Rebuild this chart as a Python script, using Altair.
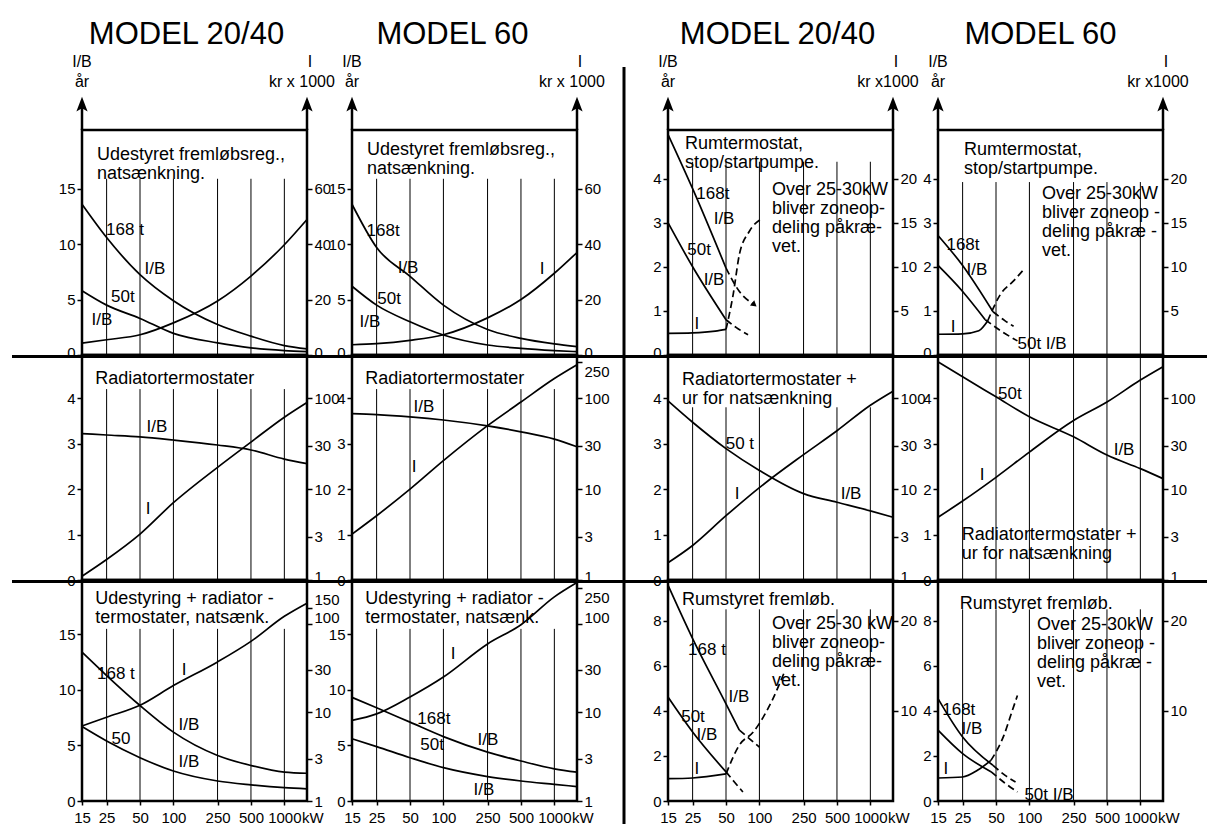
import altair as alt
import pandas as pd

FONT = "Liberation Sans"

# ---------------- data ----------------
KW = [15, 25, 50, 100, 250, 500, 1000, 1600]
GRID_KW = [25, 50, 100, 250, 500, 1000]
X_TICKS = [15, 25, 50, 100, 250, 500, 1000]
TITLES = ["MODEL 20/40", "MODEL 60", "MODEL 20/40", "MODEL 60"]
RIGHT_UNITS = ["kr x 1000", "kr x 1000", "kr x1000", "kr x1000"]

# Row 1
R1C1_IB168 = [13.6, 10.6, 7.25, 4.9, 2.75, 1.7, 0.85, 0.55]
R1C1_IB50 = [5.8, 4.5, 3.3, 1.95, 1.1, 0.65, 0.4, 0.3]
R1C1_I = [4.3, 5.5, 7.3, 11.6, 19.5, 28.5, 39.8, 48.9]

R1C2_IB168 = [13.6, 9.7, 7.1, 4.5, 2.3, 1.5, 1.0, 0.75]
R1C2_IB50 = [6.2, 4.5, 3.0, 1.8, 0.9, 0.6, 0.4, 0.3]
R1C2_I = [3.7, 4.1, 5.3, 7.3, 13.4, 20.0, 29.5, 37.0]

R1C3_IB168_X = [15, 25, 50]
R1C3_IB168 = [5.0, 3.77, 1.97]
R1C3_IB168_DX = [50, 66, 90]
R1C3_IB168_D = [1.97, 1.44, 1.14]
R1C3_IB50_X = [15, 25, 50]
R1C3_IB50 = [3.0, 2.0, 0.8]
R1C3_IB50_DX = [50, 62, 79]
R1C3_IB50_D = [0.8, 0.62, 0.46]
R1C3_I_X = [15, 25, 40, 50]
R1C3_I = [2.45, 2.5, 2.7, 2.9]
R1C3_I_DX = [50, 58, 66, 81, 107]
R1C3_I_D = [2.9, 6.85, 11.4, 14.0, 15.5]

R1C4_IB168_X = [15, 25, 47]
R1C4_IB168 = [2.71, 2.03, 0.98]
R1C4_IB168_DX = [47, 60, 72]
R1C4_IB168_D = [0.98, 0.78, 0.65]
R1C4_IB50_X = [15, 25, 40]
R1C4_IB50 = [2.03, 1.44, 0.8]
R1C4_IB50_DX = [40, 55, 78]
R1C4_IB50_D = [0.8, 0.55, 0.32]
R1C4_I_X = [15, 25, 35, 42]
R1C4_I = [2.35, 2.4, 2.75, 3.85]
R1C4_I_DX = [42, 55, 72, 89]
R1C4_I_D = [3.85, 6.9, 8.4, 9.7]

# Row 2
R2C1_IB = [3.22, 3.19, 3.15, 3.08, 2.97, 2.86, 2.66, 2.56]
R2C1_I = [1.1, 1.68, 3.2, 7.1, 17.4, 33, 62, 90]
R2C2_IB = [3.66, 3.64, 3.59, 3.52, 3.39, 3.26, 3.1, 2.93]
R2C2_I = [3.2, 5.1, 10, 20.6, 50, 91, 165, 234]
R2C3_IB50 = [3.94, 3.47, 2.89, 2.41, 1.9, 1.71, 1.52, 1.38]
R2C3_I = [1.55, 2.4, 5.1, 10.4, 24, 44, 84, 120]
R2C4_IB50 = [4.8, 4.47, 4.03, 3.59, 3.15, 2.75, 2.45, 2.23]
R2C4_I = [4.9, 7.4, 13.5, 25.6, 57, 91, 159, 223]

# Row 3
R3C1_IB168 = [13.4, 11.3, 8.6, 6.2, 4.1, 3.2, 2.6, 2.5]
R3C1_IB50 = [6.7, 5.4, 3.9, 2.7, 1.8, 1.45, 1.2, 1.1]
R3C1_I = [7.0, 8.8, 12, 20, 37, 63, 121, 170]
R3C2_IB168 = [9.33, 8.4, 7.1, 5.8, 4.4, 3.6, 2.9, 2.6]
R3C2_IB50 = [5.6, 4.9, 3.9, 3.0, 2.2, 1.8, 1.5, 1.3]
R3C2_I = [8.1, 9.6, 14.9, 25, 59, 97, 200, 290]

R3C3_IB168_X = [15, 25, 50, 66]
R3C3_IB168 = [9.57, 7.2, 4.31, 3.14]
R3C3_IB168_DX = [66, 100]
R3C3_IB168_D = [3.14, 2.39]
R3C3_IB50_X = [15, 25, 50]
R3C3_IB50 = [4.61, 3.06, 1.29]
R3C3_IB50_DX = [50, 60, 71]
R3C3_IB50_D = [1.29, 0.82, 0.4]
R3C3_I_X = [15, 25, 50]
R3C3_I = [2.47, 2.55, 3.0]
R3C3_I_DX = [50, 66, 88, 132, 168]
R3C3_I_D = [3.0, 6.2, 7.65, 11.3, 14.3]

R3C4_IB168_X = [15, 25, 47]
R3C4_IB168 = [4.54, 2.84, 1.58]
R3C4_IB168_DX = [47, 60, 75]
R3C4_IB168_D = [1.58, 1.15, 0.84]
R3C4_IB50_X = [15, 25, 45]
R3C4_IB50 = [3.14, 2.1, 1.3]
R3C4_IB50_DX = [45, 60, 78]
R3C4_IB50_D = [1.3, 0.8, 0.4]
R3C4_I_X = [15, 25, 34, 45]
R3C4_I = [2.55, 2.66, 3.4, 4.5]
R3C4_I_DX = [45, 59, 70, 78]
R3C4_I_D = [4.5, 7.3, 10.0, 11.7]

# ---------------- layout ----------------
W = 225
ROW_H = [225, 225, 221]
ONE = pd.DataFrame({"d": [0]})
XSCALE = alt.Scale(type="log", domain=[15, 1600], nice=False)
TITLE_DX = [-8, -12, -3, -10]

TEXT_IB = "Udestyret fremløbsreg.,\nnatsænkning."
TEXT_RT = "Rumtermostat,\nstop/startpumpe."
TEXT_OVER = "Over 25-30kW\nbliver zoneop-\ndeling påkræ-\nvet."
TEXT_OVER4 = "Over 25-30kW\nbliver zoneop -\ndeling påkræ -\nvet."
TEXT_US = "Udestyring + radiator -\ntermostater, natsænk."

# label nudges for crowded tick labels (value -> pixel offset)
OFF_R1 = {0: -3}
OFF_R2L = {}
OFF_R2R = {1: -4, 250: 9}
OFF_R3R = {100: -6, 150: -8, 250: 9}

PANELS = [
    # row 1
    dict(ldom=[0, 20.3], lt=[0, 5, 10, 15], rdom=[0, 81.2], rt=[0, 20, 40, 60], rlog=False, gtop=15.9,
         loff=OFF_R1, roff=OFF_R1,
         ib=[(KW, R1C1_IB168, False), (KW, R1C1_IB50, False)], ii=[(KW, R1C1_I, False)],
         labels=[(36.6, 11.3, "168 t"), (68, 7.76, "I/B"), (35, 5.23, "50t"), (22.7, 3.16, "I/B")],
         texts=[(20.5, 17.6, TEXT_IB)], heads=[]),
    dict(ldom=[0, 20.3], lt=[0, 5, 10, 15], rdom=[0, 81.2], rt=[0, 20, 40, 60], rlog=False, gtop=15.9,
         loff=OFF_R1, roff=OFF_R1,
         ib=[(KW, R1C2_IB168, False), (KW, R1C2_IB50, False)], ii=[(KW, R1C2_I, False)],
         labels=[(28.6, 11.2, "168t"), (48, 7.85, "I/B"), (32.4, 5.05, "50t"), (21.8, 2.98, "I/B"), (775, 7.76, "I")],
         texts=[(20.5, 18.05, TEXT_IB)], heads=[]),
    dict(ldom=[0, 5.1], lt=[0, 1, 2, 3, 4], rdom=[0, 25.5], rt=[5, 10, 15, 20], rlog=False, gtop=4.38,
         loff=OFF_R1, roff={},
         ib=[(R1C3_IB168_X, R1C3_IB168, False), (R1C3_IB168_DX, R1C3_IB168_D, True),
             (R1C3_IB50_X, R1C3_IB50, False), (R1C3_IB50_DX, R1C3_IB50_D, True)],
         ii=[(R1C3_I_X, R1C3_I, False), (R1C3_I_DX, R1C3_I_D, True)],
         labels=[(38.1, 3.65, "168t"), (48, 3.08, "I/B"), (28.6, 2.38, "50t"), (39, 1.7, "I/B"), (27.3, 0.7, "I")],
         texts=[(21.3, 4.67, TEXT_RT), (130, 3.63, TEXT_OVER)],
         heads=[(R1C3_IB168_DX[-1], R1C3_IB168_D[-1], 40)]),
    dict(ldom=[0, 5.1], lt=[0, 1, 2, 3, 4], rdom=[0, 25.5], rt=[5, 10, 15, 20], rlog=False, gtop=3.92,
         loff=OFF_R1, roff={},
         ib=[(R1C4_IB168_X, R1C4_IB168, False), (R1C4_IB168_DX, R1C4_IB168_D, True),
             (R1C4_IB50_X, R1C4_IB50, False), (R1C4_IB50_DX, R1C4_IB50_D, True)],
         ii=[(R1C4_I_X, R1C4_I, False), (R1C4_I_DX, R1C4_I_D, True)],
         labels=[(25.2, 2.49, "168t"), (33.7, 1.93, "I/B"), (20.5, 0.63, "I"), (130, 0.25, "50t  I/B")],
         texts=[(25.7, 4.54, TEXT_RT), (130, 3.54, TEXT_OVER4)], heads=[]),
    # row 2
    dict(ldom=[0, 4.95], lt=[0, 1, 2, 3, 4], rdom=[1, 300], rt=[1, 3, 10, 30, 100], rlog=True, gtop=4.2,
         loff=OFF_R2L, roff=OFF_R2R,
         ib=[(KW, R2C1_IB, False)], ii=[(KW, R2C1_I, False)],
         labels=[(71, 3.37, "I/B"), (59, 1.56, "I")],
         texts=[(19.7, 4.31, "Radiatortermostater")], heads=[]),
    dict(ldom=[0, 4.95], lt=[0, 1, 2, 3, 4], rdom=[1, 300], rt=[1, 3, 10, 30, 100, 250], rlog=True, gtop=4.2,
         loff=OFF_R2L, roff=OFF_R2R,
         ib=[(KW, R2C2_IB, False)], ii=[(KW, R2C2_I, False)],
         labels=[(66.7, 3.81, "I/B"), (54.3, 2.49, "I")],
         texts=[(19.7, 4.31, "Radiatortermostater")], heads=[]),
    dict(ldom=[0, 4.95], lt=[0, 1, 2, 3, 4], rdom=[1, 300], rt=[1, 3, 10, 30, 100], rlog=True, gtop=3.8,
         loff=OFF_R2L, roff=OFF_R2R,
         ib=[(KW, R2C3_IB50, False)], ii=[(KW, R2C3_I, False)],
         labels=[(66.7, 2.99, "50 t"), (62.8, 1.89, "I"), (670, 1.89, "I/B")],
         texts=[(20.1, 4.29, "Radiatortermostater +\nur for natsænkning")], heads=[]),
    dict(ldom=[0, 4.95], lt=[0, 1, 2, 3, 4], rdom=[1, 300], rt=[1, 3, 10, 30, 100], rlog=True, gtop=4.95,
         loff=OFF_R2L, roff=OFF_R2R,
         ib=[(KW, R2C4_IB50, False)], ii=[(KW, R2C4_I, False)],
         labels=[(66.7, 4.09, "50t"), (713, 2.86, "I/B"), (37.5, 2.31, "I")],
         texts=[(24.6, 0.88, "Radiatortermostater +\nur for natsænkning")], heads=[]),
    # row 3
    dict(ldom=[0, 19.9], lt=[0, 5, 10, 15], rdom=[1, 310], rt=[1, 3, 10, 30, 100, 150], rlog=True, gtop=15.5,
         loff={}, roff=OFF_R3R,
         ib=[(KW, R3C1_IB168, False), (KW, R3C1_IB50, False)], ii=[(KW, R3C1_I, False)],
         labels=[(30.3, 11.4, "168 t"), (124.6, 11.8, "I"), (138, 6.85, "I/B"), (33.7, 5.59, "50"), (138, 3.51, "I/B")],
         texts=[(19.7, 17.75, TEXT_US)], heads=[]),
    dict(ldom=[0, 19.9], lt=[0, 5, 10, 15], rdom=[1, 310], rt=[1, 3, 10, 30, 100, 250], rlog=True, gtop=15.5,
         loff={}, roff=OFF_R3R,
         ib=[(KW, R3C2_IB168, False), (KW, R3C2_IB50, False)], ii=[(KW, R3C2_I, False)],
         labels=[(122, 13.2, "I"), (82, 7.39, "168t"), (252, 5.5, "I/B"), (79, 5.05, "50t"), (232, 0.99, "I/B")],
         texts=[(19.7, 17.75, TEXT_US)], heads=[]),
    dict(ldom=[0, 9.8], lt=[0, 2, 4, 6, 8], rdom=[0, 24.5], rt=[10, 20], rlog=False, gtop=8.5,
         loff={}, roff={},
         ib=[(R3C3_IB168_X, R3C3_IB168, False), (R3C3_IB168_DX, R3C3_IB168_D, True),
             (R3C3_IB50_X, R3C3_IB50, False), (R3C3_IB50_DX, R3C3_IB50_D, True)],
         ii=[(R3C3_I_X, R3C3_I, False), (R3C3_I_DX, R3C3_I_D, True)],
         labels=[(33.7, 6.7, "168 t"), (65.3, 4.61, "I/B"), (25.2, 3.72, "50t"), (33.7, 2.93, "I/B"), (27.3, 1.42, "I")],
         texts=[(20.1, 8.69, "Rumstyret fremløb."), (130, 7.63, "Over 25-30 kW\nbliver zoneop-\ndeling påkræ-\nvet.")],
         heads=[]),
    dict(ldom=[0, 9.8], lt=[0, 2, 4, 6, 8], rdom=[0, 24.5], rt=[10, 20], rlog=False, gtop=8.5,
         loff={}, roff={},
         ib=[(R3C4_IB168_X, R3C4_IB168, False), (R3C4_IB168_DX, R3C4_IB168_D, True),
             (R3C4_IB50_X, R3C4_IB50, False), (R3C4_IB50_DX, R3C4_IB50_D, True)],
         ii=[(R3C4_I_X, R3C4_I, False), (R3C4_I_DX, R3C4_I_D, True)],
         labels=[(23.1, 4.04, "168t"), (30.3, 3.19, "I/B"), (17.7, 1.42, "I"), (150, 0.27, "50t  I/B")],
         texts=[(23.6, 8.51, "Rumstyret fremløb."), (117, 7.58, TEXT_OVER4)], heads=[]),
]


def x_enc(bottom):
    if bottom:
        ax = alt.Axis(values=X_TICKS, title=None, grid=False, domain=False, ticks=True, tickSize=4,
                      tickColor="black", tickWidth=1.5, labelColor="black", labelFontSize=15,
                      labelPadding=5, labelFlush=False, labelOverlap=False, format="d", labelFont=FONT)
    else:
        ax = None
    return alt.X("kW:Q", scale=XSCALE, axis=ax)


def offset_prop(offsets):
    if not offsets:
        return 0
    conds = [{"test": "datum.value == %s" % k, "value": v} for k, v in offsets.items()]
    return {"condition": conds, "value": 0}


def y_enc(domain, ticks, orient, log=False, offsets=None):
    scale = alt.Scale(type="log" if log else "linear", domain=domain, nice=False, zero=False)
    ax = alt.Axis(values=ticks, orient=orient, title=None, grid=False, domain=False, tickSize=5,
                  tickColor="black", tickWidth=1.5, labelColor="black", labelFontSize=15,
                  labelPadding=2, labelOverlap=False, format="d", labelFont=FONT,
                  labelOffset=offset_prop(offsets))
    return alt.Y("v:Q", scale=scale, axis=ax)


def curve(xs, ys, xe, ye, dashed):
    df = pd.DataFrame({"kW": xs, "v": ys})
    kw = dict(color="black", strokeWidth=1.7, interpolate="monotone")
    if dashed:
        kw["strokeDash"] = [7, 4]
    return alt.Chart(df).mark_line(**kw).encode(x=xe, y=ye)


def deco_text(text, x, y, size, align="center"):
    return alt.Chart(ONE).mark_text(text=text, fontSize=size, align=align, baseline="alphabetic",
                                    color="black", font=FONT).encode(x=alt.value(x), y=alt.value(y))


def arrow(x):
    shaft = alt.Chart(ONE).mark_rule(color="black", strokeWidth=2.5).encode(
        x=alt.value(x), y=alt.value(-26), y2=alt.value(0))
    head = alt.Chart(ONE).mark_point(shape="M0,-1L0.6,0.6L0,0.25L-0.6,0.6Z", filled=True, color="black",
                                     size=350, opacity=1, strokeWidth=0).encode(x=alt.value(x), y=alt.value(-24))
    return [shaft, head]


def panel(p, row, col):
    h = ROW_H[row]
    xe = x_enc(row == 2)
    yl = y_enc(p["ldom"], p["lt"], "left", False, p["loff"])
    yr = y_enc(p["rdom"], p["rt"], "right", p["rlog"], p["roff"])
    left = []
    g = pd.DataFrame({"kW": GRID_KW, "v": [0] * len(GRID_KW), "v2": [p["gtop"]] * len(GRID_KW)})
    left.append(alt.Chart(g).mark_rule(color="black", strokeWidth=1).encode(x=xe, y=yl, y2="v2:Q"))
    for xs, ys, d in p["ib"]:
        left.append(curve(xs, ys, xe, yl, d))
    for hx, hy, ang in p["heads"]:
        hdf = pd.DataFrame({"kW": [hx], "v": [hy]})
        left.append(alt.Chart(hdf).mark_point(shape="triangle-right", filled=True, color="black", size=45,
                                              opacity=1, angle=ang).encode(x=xe, y=yl))
    lab = pd.DataFrame({"kW": [a[0] for a in p["labels"]], "v": [a[1] for a in p["labels"]],
                        "t": [a[2] for a in p["labels"]]})
    left.append(alt.Chart(lab).mark_text(fontSize=17, color="black", font=FONT, baseline="middle").encode(
        x=xe, y=yl, text="t:N"))
    for tx, ty, tt in p["texts"]:
        tdf = pd.DataFrame({"kW": [tx], "v": [ty], "t": [tt]})
        left.append(alt.Chart(tdf).mark_text(fontSize=18, color="black", font=FONT, align="left",
                                             baseline="alphabetic", lineBreak="\n", lineHeight=19).encode(
            x=xe, y=yl, text="t:N"))
    if row == 0:
        left.append(deco_text(TITLES[col], W / 2 + TITLE_DX[col], -86, 31))
        left.append(deco_text("I/B", 0, -63, 16))
        left.append(deco_text("år", 0, -43, 16))
        left.append(deco_text("I", W + 3, -63, 16))
        left.append(deco_text(RIGHT_UNITS[col], W - 5, -43, 16))
        left += arrow(0)
        left += arrow(W)
    if col == 0 and row > 0:
        left.append(alt.Chart(ONE).mark_rule(color="black", strokeWidth=3).encode(
            x=alt.value(-70), x2=alt.value(1125), y=alt.value(1.5)))
    if col == 0 and row == 0:
        left.append(alt.Chart(ONE).mark_rule(color="white", strokeWidth=1).encode(
            x=alt.value(-72), x2=alt.value(-71), y=alt.value(-120)))
    if row == 2:
        kdf = pd.DataFrame({"kW": [1600], "t": ["kW"]})
        left.append(alt.Chart(kdf).mark_text(fontSize=15, color="black", font=FONT, align="left",
                                             baseline="alphabetic", dx=-5).encode(
            x=xe, y=alt.value(h + 22), text="t:N"))
    right = [curve(xs, ys, xe, yr, d) for xs, ys, d in p["ii"]]
    return alt.layer(alt.layer(*left), alt.layer(*right)).resolve_scale(y="independent").properties(
        width=W, height=h)


def spacer(row):
    y0 = -63 if row == 0 else 0
    y1 = ROW_H[row] + (23 if row == 2 else 0)
    return alt.Chart(ONE).mark_rule(color="black", strokeWidth=3).encode(
        x=alt.value(2), y=alt.value(y0), y2=alt.value(y1)).properties(
        width=1, height=ROW_H[row], view=alt.ViewBackground(strokeOpacity=0))


cells = []
for r in range(3):
    for c in range(4):
        if c == 2:
            cells.append(spacer(r))
        cells.append(panel(PANELS[r * 4 + c], r, c))

chart = alt.concat(*cells, columns=5, spacing={"row": 0, "column": 45}, bounds="flush", align="each",
                   padding=0, background="white").configure(font=FONT).configure_view(
    stroke="black", strokeWidth=2.5)

chart.save("out.html", embed_options={"renderer": "svg", "actions": False})
